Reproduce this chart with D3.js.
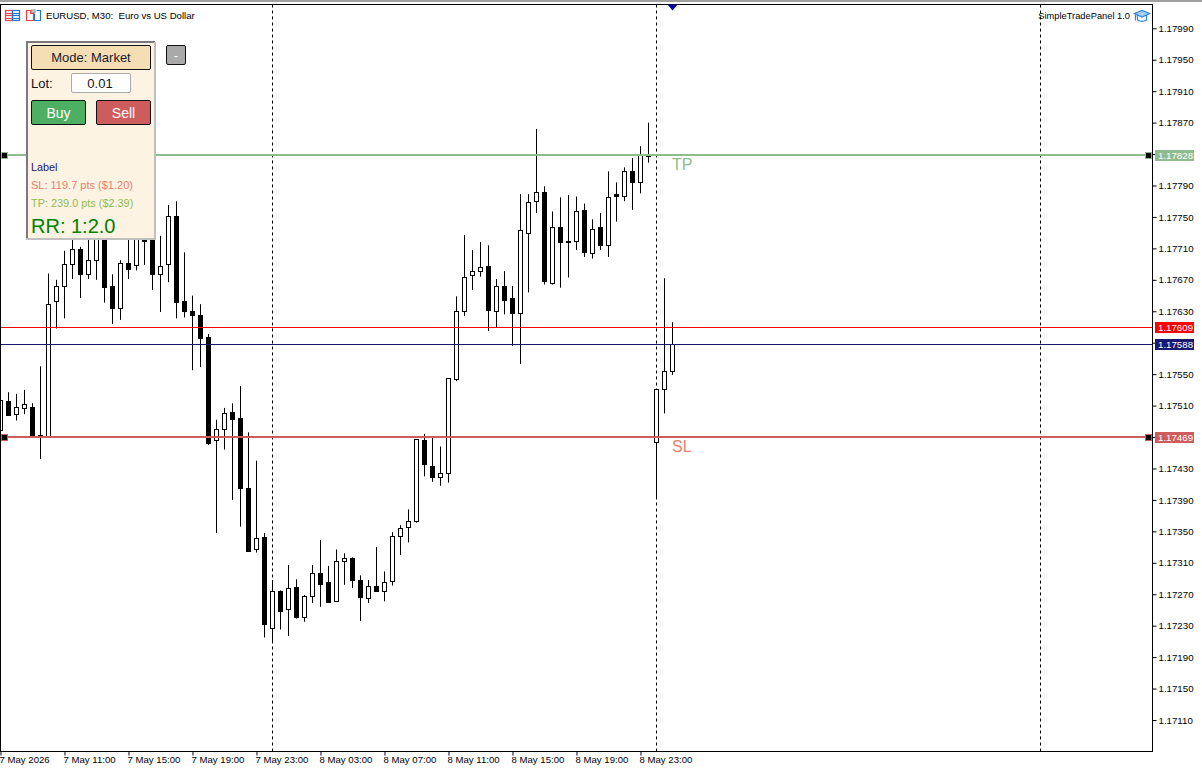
<!DOCTYPE html>
<html>
<head>
<meta charset="utf-8">
<script src="https://cdn.jsdelivr.net/npm/d3@7"></script>
<style>
  html, body { margin: 0; padding: 0; background: #fff; overflow: hidden; }
  text { font-family: "Liberation Sans", Arial, sans-serif; white-space: pre; }
</style>
</head>
<body>
<div id="chart"></div>
<script>
// EURUSD M30 candles (bar 0 sits on the left edge)
const opens = [1.17478,1.17515,1.17499,1.17506,1.17508,1.17472,1.17471,1.17643,1.17661,1.17689,1.17708,1.17677,1.17694,1.17736,1.17662,1.17633,1.17691,1.17688,1.17721,1.17736,1.17677,1.17690,1.17751,1.17643,1.17630,1.17624,1.17597,1.17465,1.17480,1.17501,1.17494,1.17405,1.17327,1.17342,1.17227,1.17274,1.17251,1.17279,1.17241,1.17267,1.17297,1.17285,1.17261,1.17312,1.17316,1.17288,1.17265,1.17280,1.17274,1.17286,1.17343,1.17355,1.17362,1.17466,1.17433,1.17418,1.17423,1.17543,1.17630,1.17675,1.17681,1.17687,1.17630,1.17662,1.17646,1.17627,1.17729,1.17770,1.17781,1.17665,1.17737,1.17717,1.17719,1.17758,1.17703,1.17736,1.17714,1.17779,1.17776,1.17808,1.17794,1.17829,1.17463,1.17531,1.17554];
const highs = [1.17526,1.17527,1.17525,1.17530,1.17513,1.17560,1.17678,1.17670,1.17707,1.17727,1.17712,1.17721,1.17740,1.17746,1.17677,1.17695,1.17721,1.17733,1.17731,1.17744,1.17726,1.17765,1.17770,1.17705,1.17650,1.17639,1.17601,1.17492,1.17507,1.17513,1.17535,1.17476,1.17440,1.17348,1.17288,1.17275,1.17307,1.17289,1.17269,1.17307,1.17339,1.17306,1.17327,1.17322,1.17317,1.17294,1.17288,1.17330,1.17299,1.17349,1.17358,1.17378,1.17467,1.17474,1.17470,1.17458,1.17545,1.17649,1.17727,1.17708,1.17718,1.17714,1.17671,1.17681,1.17662,1.17779,1.17779,1.17862,1.17789,1.17757,1.17775,1.17778,1.17776,1.17767,1.17747,1.17755,1.17808,1.17794,1.17813,1.17825,1.17840,1.17870,1.17531,1.17672,1.17616];
const lows = [1.17471,1.17497,1.17491,1.17499,1.17471,1.17442,1.17470,1.17608,1.17621,1.17671,1.17647,1.17671,1.17670,1.17641,1.17614,1.17619,1.17671,1.17682,1.17689,1.17657,1.17629,1.17667,1.17621,1.17622,1.17555,1.17559,1.17460,1.17348,1.17454,1.17390,1.17356,1.17324,1.17323,1.17215,1.17208,1.17225,1.17217,1.17239,1.17235,1.17259,1.17254,1.17259,1.17260,1.17282,1.17278,1.17236,1.17259,1.17273,1.17261,1.17281,1.17320,1.17336,1.17361,1.17420,1.17413,1.17408,1.17412,1.17541,1.17624,1.17657,1.17674,1.17605,1.17610,1.17626,1.17586,1.17563,1.17654,1.17755,1.17664,1.17664,1.17660,1.17673,1.17708,1.17699,1.17697,1.17708,1.17699,1.17744,1.17770,1.17759,1.17780,1.17819,1.17392,1.17500,1.17549];
const closes = [1.17516,1.17498,1.17507,1.17511,1.17471,1.17470,1.17638,1.17661,1.17690,1.17709,1.17677,1.17695,1.17727,1.17660,1.17633,1.17691,1.17683,1.17726,1.17719,1.17677,1.17687,1.17751,1.17641,1.17630,1.17625,1.17595,1.17462,1.17480,1.17500,1.17492,1.17404,1.17325,1.17341,1.17231,1.17274,1.17248,1.17277,1.17240,1.17267,1.17297,1.17283,1.17259,1.17312,1.17316,1.17287,1.17266,1.17280,1.17273,1.17285,1.17344,1.17354,1.17362,1.17467,1.17435,1.17418,1.17423,1.17544,1.17630,1.17673,1.17681,1.17686,1.17631,1.17661,1.17644,1.17627,1.17733,1.17769,1.17781,1.17668,1.17736,1.17718,1.17719,1.17757,1.17705,1.17734,1.17714,1.17775,1.17776,1.17808,1.17794,1.17829,1.17827,1.17531,1.17554,1.17588];

const priceTicks = [1.1799,1.1795,1.1791,1.1787,1.1783,1.1779,1.1775,1.1771,1.1767,1.1763,1.1759,1.1755,1.1751,1.1747,1.1743,1.1739,1.1735,1.1731,1.1727,1.1723,1.1719,1.1715,1.1711];
const timeLabels = ["7 May 2026","7 May 11:00","7 May 15:00","7 May 19:00","7 May 23:00","8 May 03:00","8 May 07:00","8 May 11:00","8 May 15:00","8 May 19:00","8 May 23:00"];
const timeBars = [0,8,16,24,32,40,48,56,64,72,80];
const separatorBars = [34,82,130];

const tpPrice = 1.17828, slPrice = 1.17469, askPrice = 1.17609, bidPrice = 1.17588;

const width = 1202, height = 770;
const plot = { left: 1, right: 1152.5, top: 4.5, bottom: 751.5 };
const priceFont = 9.7, timeFont = 9.6;

const x = d3.scaleLinear().domain([0, 1]).range([0.5, 8.5]);
const y = d3.scaleLinear().domain([1.1799, 1.1711]).range([28.3, 720]);
const px = v => Math.round(y(v) - 0.5) + 0.5;

const svg = d3.select("#chart").append("svg")
    .attr("width", width)
    .attr("height", height)
    .style("display", "block");

svg.append("rect").attr("width", width).attr("height", height).attr("fill", "#fff");
svg.append("rect").attr("x", 0).attr("y", 0).attr("width", width).attr("height", 2).attr("fill", "#a0a0a0");

// period separators
svg.append("g").selectAll("line")
    .data(separatorBars)
    .join("line")
    .attr("x1", d => x(d)).attr("x2", d => x(d))
    .attr("y1", plot.top).attr("y2", plot.bottom)
    .attr("stroke", "#000")
    .attr("stroke-dasharray", "3,3");

const candles = closes.map((c, i) => ({ i, open: opens[i], high: highs[i], low: lows[i], close: c }));

const clip = svg.append("clipPath").attr("id", "plot-clip").append("rect")
    .attr("x", plot.left).attr("y", plot.top)
    .attr("width", plot.right - plot.left).attr("height", plot.bottom - plot.top);

const candleG = svg.append("g").attr("clip-path", "url(#plot-clip)");

// wicks
candleG.selectAll("line")
    .data(candles)
    .join("line")
    .attr("x1", d => x(d.i)).attr("x2", d => x(d.i))
    .attr("y1", d => y(d.high)).attr("y2", d => y(d.low))
    .attr("stroke", "#000");

// bodies
candleG.selectAll("rect")
    .data(candles)
    .join("rect")
    .attr("x", d => x(d.i) - 2)
    .attr("width", 4)
    .attr("y", d => px(Math.max(d.open, d.close)))
    .attr("height", d => Math.max(1, px(Math.min(d.open, d.close)) - px(Math.max(d.open, d.close))))
    .attr("fill", d => d.close >= d.open ? "#fff" : "#000")
    .attr("stroke", "#000");

// ask / bid lines
const levels = [
    { price: askPrice, color: "#ff0000", w: 1 },
    { price: bidPrice, color: "#191970", w: 1 },
    { price: tpPrice, color: "#8fbc8f", w: 2 },
    { price: slPrice, color: "#cd5c5c", w: 2 }
];
svg.append("g").selectAll("line")
    .data(levels)
    .join("line")
    .attr("x1", plot.left).attr("x2", plot.right)
    .attr("y1", d => d.w === 2 ? Math.floor(y(d.price)) : px(d.price))
    .attr("y2", d => d.w === 2 ? Math.floor(y(d.price)) : px(d.price))
    .attr("stroke", d => d.color)
    .attr("stroke-width", d => d.w);

// drag handles on the TP and SL lines
[tpPrice, slPrice].forEach((p, k) => {
    const col = k === 0 ? "#8fbc8f" : "#cd5c5c";
    [4.5, 1148.5].forEach(cx => {
        svg.append("rect")
            .attr("x", cx - 3).attr("y", Math.floor(y(p)) - 2.5)
            .attr("width", 6).attr("height", 6)
            .attr("fill", "#000").attr("stroke", col);
    });
});

svg.append("text").attr("x", 672).attr("y", Math.floor(y(tpPrice)) + 15)
    .attr("fill", "#8fbc8f").attr("font-size", 16).text("TP");
svg.append("text").attr("x", 672).attr("y", Math.floor(y(slPrice)) + 15)
    .attr("fill", "#e9806e").attr("font-size", 16).text("SL");

// axes
const yAxis = d3.axisRight(y).tickValues(priceTicks).tickFormat(d3.format(".5f")).tickSize(4).tickPadding(2);
const yG = svg.append("g").attr("transform", `translate(${plot.right},0)`).call(yAxis);
const xAxis = d3.axisBottom(x).tickValues(timeBars).tickFormat((d, i) => timeLabels[i]).tickSize(4).tickPadding(1);
const xG = svg.append("g").attr("transform", `translate(0,${plot.bottom})`).call(xAxis);
xG.selectAll("text").attr("text-anchor", "start").attr("dx", "-1.5");
[[yG, priceFont], [xG, timeFont]].forEach(([g, size]) => {
    g.selectAll("text").attr("font-size", size).attr("fill", "#000").style("font-family", "'Liberation Sans', Arial, sans-serif");
    g.selectAll("line").attr("stroke", "#000");
    g.select(".domain").remove();
});

// plot frame
svg.append("rect")
    .attr("x", 0.5).attr("y", plot.top)
    .attr("width", plot.right - 0.5).attr("height", plot.bottom - plot.top)
    .attr("fill", "none").attr("stroke", "#000");

// price tags on the right
const tags = [
    { price: tpPrice, color: "#8fbc8f" },
    { price: askPrice, color: "#ff0000" },
    { price: bidPrice, color: "#191970" },
    { price: slPrice, color: "#cd5c5c" }
];
const tagG = svg.append("g").selectAll("g").data(tags).join("g")
    .attr("transform", d => `translate(1155,${Math.floor(y(d.price))})`);
tagG.append("rect").attr("x", 0).attr("y", -5).attr("width", 39).attr("height", 11).attr("fill", d => d.color);
tagG.append("text").attr("x", 3).attr("y", 4).attr("font-size", priceFont).attr("fill", "#fff")
    .text(d => d3.format(".5f")(d.price));

// current bar marker
svg.append("path")
    .attr("d", d3.line()([[x(84) - 5, plot.top], [x(84) + 5, plot.top], [x(84), plot.top + 6]]) + "Z")
    .attr("fill", "#0000a0");

// header text
svg.append("text").attr("x", 46).attr("y", 19).attr("font-size", 9.6).attr("fill", "#000")
    .text("EURUSD, M30:  Euro vs US Dollar");
svg.append("text").attr("x", 1130).attr("y", 19).attr("font-size", 9.3).attr("fill", "#000")
    .attr("text-anchor", "end").text("SimpleTradePanel 1.0");

// header icons
const red = "#f04040", blue = "#1e78d2";
const icon1 = svg.append("g").attr("fill", "none").attr("stroke-width", 1.2);
icon1.append("rect").attr("x", 5.5).attr("y", 10.5).attr("width", 7).attr("height", 10).attr("stroke", red);
icon1.append("rect").attr("x", 12.5).attr("y", 10.5).attr("width", 7).attr("height", 10).attr("stroke", blue);
[13.5, 15.5, 18.5].forEach(l => {
    icon1.append("line").attr("x1", 6).attr("x2", 12).attr("y1", l).attr("y2", l).attr("stroke", red);
    icon1.append("line").attr("x1", 13).attr("x2", 19).attr("y1", l).attr("y2", l).attr("stroke", blue);
});
const icon2 = svg.append("g").attr("fill", "none").attr("stroke-width", 1.2);
icon2.append("path").attr("d", "M26.5 10.5H30.5V13.5H33.5V20.5H26.5Z").attr("stroke", red);
icon2.append("path").attr("d", "M34.5 13.5V20.5H40.5V10.5H36.5").attr("stroke", blue);
icon2.append("rect").attr("x", 31.5).attr("y", 10).attr("width", 3.5).attr("height", 2.5).attr("stroke", "#a0a0a0").attr("fill", "#d8d8d8");

const cap = svg.append("g").attr("stroke-width", 1.2);
cap.append("path").attr("d", "M1137.5 15V20C1140 21.5 1144 21.5 1146.5 20V15").attr("fill", "#fff").attr("stroke", "#2f86d6");
cap.append("path").attr("d", "M1134.5 13.5L1142 10.5L1149.5 13.5L1142 17Z").attr("fill", "#a8d0f0").attr("stroke", "#2f86d6");
cap.append("line").attr("x1", 1135.5).attr("x2", 1135.5).attr("y1", 14).attr("y2", 20.5).attr("stroke", "#2f86d6");

// trade panel
const panel = svg.append("g");
panel.append("rect").attr("x", 26).attr("y", 41).attr("width", 130).attr("height", 199).attr("fill", "#fdf3e3");
panel.append("path").attr("d", "M27 239V42H155").attr("fill", "none").attr("stroke", "#7a7a7a").attr("stroke-width", 2);
panel.append("path").attr("d", "M26 239H155V42").attr("fill", "none").attr("stroke", "#c0c0c0").attr("stroke-width", 2);

const button = (bx, by, w, h, fill, label, color, size) => {
    panel.append("rect").attr("x", bx + 0.5).attr("y", by + 0.5).attr("width", w - 1).attr("height", h - 1)
        .attr("rx", 1.5).attr("fill", fill).attr("stroke", "#111");
    panel.append("text").attr("x", bx + w / 2).attr("y", by + h / 2 + size * 0.36)
        .attr("text-anchor", "middle").attr("font-size", size).attr("fill", color).text(label);
};
button(31, 45, 120, 25, "#f5deb3", "Mode: Market", "#1a1a2e", 13);
button(166, 45, 20, 20, "#a9a9a9", "-", "#fff", 13);
button(31, 100, 55, 25, "#4caf64", "Buy", "#fff", 14);
button(96, 100, 55, 25, "#cd5c5c", "Sell", "#fff", 14);

panel.append("text").attr("x", 31).attr("y", 88).attr("font-size", 13).attr("fill", "#111").text("Lot:");
panel.append("rect").attr("x", 71.5).attr("y", 73.5).attr("width", 59).attr("height", 19)
    .attr("rx", 1.5).attr("fill", "#fff").attr("stroke", "#aaa");
panel.append("text").attr("x", 100).attr("y", 88).attr("text-anchor", "middle").attr("font-size", 13).attr("fill", "#111").text("0.01");

const infoLines = [
    { t: "Label", yy: 171, c: "#191970", s: 10.8 },
    { t: "SL: 119.7 pts ($1.20)", yy: 189, c: "#e9806e", s: 11 },
    { t: "TP: 239.0 pts ($2.39)", yy: 207, c: "#8fbc4f", s: 10.9 },
    { t: "RR: 1:2.0", yy: 233, c: "#008000", s: 20 }
];
panel.selectAll("text.info").data(infoLines).join("text").attr("class", "info")
    .attr("x", 31).attr("y", d => d.yy).attr("font-size", d => d.s).attr("fill", d => d.c).text(d => d.t);
</script>
</body>
</html>
